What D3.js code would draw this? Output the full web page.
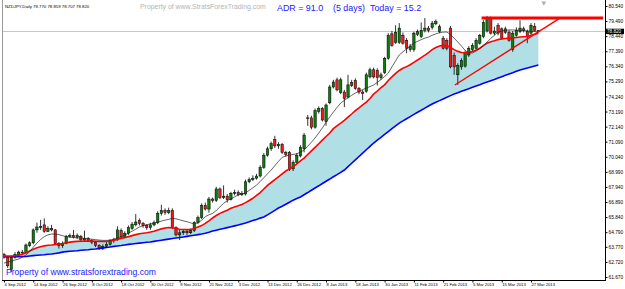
<!DOCTYPE html>
<html>
<head>
<meta charset="utf-8">
<script src="https://cdn.jsdelivr.net/npm/d3@7"></script>
<style>
body { margin: 0; background: #fff; }
svg { display: block; }
text { font-family: "Liberation Sans", Arial, sans-serif; }
</style>
</head>
<body>
<div id="chart"></div>
<script>
// NZDJPY daily, 4 Sep 2012 - 29 Mar 2013 (one entry per bar)
const opens = [
63.25,63.05,62.20,63.05,63.20,63.40,63.35,63.85,64.05,64.95,
65.10,65.30,64.85,65.05,64.95,64.00,63.85,64.00,64.50,64.55,
64.45,64.50,64.25,64.35,64.20,64.10,63.85,63.70,63.80,63.95,
64.20,64.25,64.90,64.45,64.70,65.05,65.30,65.60,65.40,65.25,
65.10,65.30,65.45,66.10,66.30,66.15,66.30,65.10,64.60,64.75,
64.85,64.75,64.90,65.45,65.80,66.65,66.40,67.10,67.00,67.80,
67.20,67.30,67.05,67.50,67.55,67.40,67.45,68.30,68.45,68.55,
68.70,69.30,70.15,70.60,71.25,70.80,70.90,70.35,70.35,69.20,
69.65,70.10,70.60,72.70,72.75,72.10,73.20,73.40,72.50,73.80,
74.90,75.40,74.50,74.55,74.20,75.00,75.35,74.80,74.55,74.60,
75.60,76.10,76.05,75.55,75.90,76.90,78.60,78.00,78.00,78.50,
78.15,77.50,77.50,78.55,78.40,78.85,79.00,79.05,79.30,78.75,
78.30,78.15,79.00,77.10,75.75,76.30,76.35,77.13,77.50,77.60,
77.95,78.40,78.80,79.70,78.65,79.20,78.95,78.70,78.70,77.50,
78.50,78.75,78.95,78.75,78.65,79.10,78.77];
const highs = [
63.35,63.10,63.15,63.40,63.50,63.55,64.00,64.15,65.05,65.45,
65.65,65.75,65.20,65.30,65.00,64.10,64.15,64.60,64.70,64.95,
64.70,64.60,64.90,64.45,64.30,64.20,63.95,63.95,64.10,64.30,
64.40,65.20,65.05,64.85,65.25,65.50,66.05,65.75,65.50,65.35,
65.45,65.60,66.25,66.70,66.45,66.50,66.45,65.20,64.95,65.00,
65.00,65.05,65.55,65.95,66.80,66.85,67.25,67.20,67.95,67.90,
68.05,67.45,67.60,67.75,67.70,67.65,68.45,68.60,68.75,68.85,
69.45,70.30,70.75,71.10,71.50,71.05,71.00,70.45,70.45,69.80,
70.30,70.85,71.70,72.95,72.90,73.40,73.55,73.50,73.75,75.05,
75.40,75.55,75.55,74.70,75.75,75.40,75.50,74.90,74.70,75.90,
76.25,76.25,76.20,75.90,77.00,78.65,78.80,79.20,79.35,78.70,
78.30,77.90,78.75,78.90,79.40,79.70,79.15,79.50,79.60,79.25,
78.45,78.30,79.15,77.30,76.55,76.90,77.45,77.75,77.95,78.30,
78.60,79.55,79.85,79.80,79.10,79.35,79.05,79.10,78.85,78.80,
79.05,79.55,79.10,78.90,79.35,79.35,78.859];
const lows = [
62.95,62.30,62.00,62.95,63.10,63.20,63.30,63.75,63.95,64.75,
64.95,64.75,64.80,64.85,63.90,63.65,63.70,63.95,64.40,64.35,
64.30,64.10,64.15,64.10,63.95,63.75,63.55,63.55,63.75,63.85,
64.05,64.20,64.35,64.35,64.60,64.95,65.20,65.25,65.10,64.95,
64.95,65.20,65.35,65.95,66.00,66.05,65.00,64.50,64.25,64.60,
64.60,64.65,64.80,65.35,65.70,66.30,66.15,66.85,66.90,67.10,
67.10,66.85,67.00,67.35,67.30,67.30,67.35,68.20,68.35,68.45,
68.60,69.20,70.05,70.45,70.65,70.60,70.25,70.05,69.05,69.05,
69.55,70.00,70.35,72.20,71.95,72.00,73.05,72.50,72.20,73.70,
74.80,74.60,74.40,73.50,74.10,74.90,74.70,74.40,74.00,74.50,
75.50,75.50,75.00,75.40,75.80,76.80,77.70,77.90,77.90,77.85,
77.25,77.35,77.35,78.45,78.30,78.70,78.70,78.90,79.20,78.65,
77.50,77.45,76.20,75.75,75.05,76.10,76.25,77.00,77.35,77.50,
77.85,78.30,78.70,78.55,78.50,78.50,78.20,78.60,78.05,77.35,
78.40,78.65,78.70,77.95,78.55,78.75,78.707];
const closes = [
63.05,62.45,63.05,63.25,63.40,63.35,63.90,64.05,64.95,65.15,
65.20,64.85,65.05,64.95,64.00,63.85,64.00,64.50,64.55,64.45,
64.55,64.25,64.35,64.20,64.10,63.85,63.70,63.80,63.95,64.20,
64.25,64.95,64.45,64.70,65.10,65.35,65.50,65.40,65.25,65.10,
65.30,65.45,66.10,66.30,66.15,66.30,65.10,64.60,64.75,64.85,
64.75,64.90,65.45,65.80,66.65,66.40,67.10,67.00,67.80,67.20,
67.30,67.05,67.50,67.55,67.40,67.50,68.30,68.45,68.55,68.70,
69.30,70.15,70.60,70.95,70.80,70.90,70.35,70.20,69.15,69.65,
70.15,70.70,71.55,72.75,72.10,73.25,73.40,72.60,73.65,74.90,
75.25,74.70,75.40,74.10,75.05,75.20,74.80,74.55,74.45,75.75,
76.10,75.60,75.55,75.75,76.90,78.50,77.80,78.70,79.00,77.95,
77.60,77.75,78.65,78.75,78.85,79.00,78.85,79.35,79.45,79.10,
77.60,77.60,76.30,76.30,76.40,76.75,77.30,77.60,77.80,78.15,
78.50,79.40,79.70,78.65,78.80,78.65,78.30,78.95,78.15,78.65,
78.85,79.00,78.85,78.40,79.20,78.85,78.82];

// moving averages (thin black, red, blue)
const maFast = [
62.64,62.71,62.78,62.85,62.92,63.05,63.20,63.43,63.75,64.03,
64.28,64.48,64.60,64.66,64.66,64.62,64.55,64.48,64.45,64.42,
64.40,64.38,64.36,64.33,64.30,64.27,64.24,64.22,64.22,64.24,
64.30,64.38,64.48,64.59,64.72,64.86,65.00,65.15,65.24,65.31,
65.37,65.41,65.48,65.56,65.63,65.68,65.76,65.72,65.65,65.58,
65.52,65.44,65.36,65.45,65.62,65.87,66.00,66.10,66.30,66.55,
66.80,66.98,67.12,67.25,67.38,67.45,67.52,67.70,67.88,68.07,
68.32,68.58,68.85,69.12,69.42,69.72,70.00,70.10,70.16,70.20,
70.25,70.37,70.51,70.78,71.05,71.35,71.70,72.05,72.45,72.81,
73.15,73.48,73.78,73.98,74.15,74.32,74.48,74.60,74.72,74.82,
74.93,75.04,75.22,75.42,75.63,75.87,76.30,76.72,77.13,77.35,
77.55,77.75,77.96,78.08,78.20,78.30,78.38,78.50,78.60,78.68,
78.72,78.73,78.55,78.30,78.03,77.75,77.45,77.27,77.27,77.40,
77.58,77.80,78.03,78.28,78.50,78.73,78.80,78.85,78.87,78.87,
78.86,78.85,78.83,78.80,78.78,78.76,78.73];
const maMid = [
63.13,63.13,63.13,63.15,63.18,63.25,63.35,63.48,63.60,63.70,
63.78,63.84,63.88,63.90,63.93,63.95,64.00,64.06,64.10,64.13,
64.15,64.16,64.17,64.18,64.17,64.16,64.15,64.14,64.15,64.18,
64.22,64.30,64.36,64.42,64.48,64.55,64.62,64.68,64.72,64.75,
64.80,64.86,64.94,65.02,65.08,65.12,65.10,65.05,65.00,64.98,
64.97,64.98,65.05,65.15,65.25,65.40,65.58,65.78,65.95,66.10,
66.22,66.32,66.45,66.55,66.63,66.72,66.85,67.00,67.15,67.35,
67.55,67.80,68.05,68.25,68.45,68.65,68.85,69.05,69.20,69.35,
69.55,69.75,69.95,70.20,70.45,70.70,70.95,71.20,71.45,71.70,
72.00,72.20,72.38,72.58,72.80,73.02,73.25,73.45,73.65,73.85,
74.10,74.40,74.62,74.85,75.05,75.35,75.60,75.85,76.05,76.20,
76.32,76.45,76.62,76.78,76.95,77.12,77.30,77.50,77.65,77.75,
77.80,77.78,77.65,77.50,77.38,77.30,77.28,77.30,77.38,77.48,
77.60,77.78,77.95,78.05,78.12,78.20,78.25,78.28,78.30,78.32,
78.35,78.38,78.40,78.42,78.50,78.58,78.65];
const maSlow = [
63.08,63.08,63.08,63.08,63.08,63.09,63.10,63.13,63.16,63.18,
63.20,63.22,63.25,63.27,63.31,63.35,63.40,63.44,63.46,63.48,
63.50,63.53,63.55,63.57,63.60,63.62,63.65,63.68,63.72,63.76,
63.80,63.83,63.86,63.90,63.94,63.97,64.00,64.03,64.06,64.09,
64.11,64.15,64.19,64.23,64.27,64.31,64.35,64.39,64.42,64.46,
64.50,64.54,64.58,64.62,64.66,64.72,64.79,64.87,64.93,64.99,
65.05,65.11,65.17,65.23,65.29,65.36,65.43,65.51,65.60,65.68,
65.77,65.85,66.00,66.15,66.31,66.47,66.60,66.74,66.88,67.02,
67.13,67.24,67.40,67.55,67.71,67.87,68.02,68.18,68.34,68.49,
68.65,68.80,68.96,69.12,69.35,69.59,69.82,70.06,70.30,70.53,
70.77,71.00,71.20,71.40,71.60,71.80,72.00,72.20,72.39,72.54,
72.69,72.84,72.99,73.14,73.28,73.43,73.58,73.72,73.84,73.95,
74.07,74.18,74.30,74.41,74.50,74.60,74.69,74.78,74.88,74.97,
75.06,75.16,75.25,75.34,75.43,75.53,75.62,75.71,75.80,75.89,
75.99,76.08,76.15,76.22,76.29,76.36,76.43];

// hand drawn lines: [bar, price]
const trendLine = [[123.2, 75.04], [151.9, 79.70]];
const resistLine = [[130.5, 79.70], [163.7, 79.70]];

const dateLabels = ["4 Sep 2012","14 Sep 2012","26 Sep 2012","8 Oct 2012","18 Oct 2012",
  "30 Oct 2012","9 Nov 2012","21 Nov 2012","3 Dec 2012","13 Dec 2012","26 Dec 2012",
  "8 Jan 2013","18 Jan 2013","30 Jan 2013","11 Feb 2013","21 Feb 2013","5 Mar 2013",
  "15 Mar 2013","27 Mar 2013"];
const dateTicks = d3.range(0, 145, 8);
const priceTicks = [80.54,79.49,78.44,77.39,76.34,75.29,74.24,73.19,72.14,71.09,
  70.04,68.99,67.94,66.89,65.84,64.79,63.77,62.72,61.67];

const W = 625, H = 289;
const plot = {left: 2, right: 605, top: 2, bottom: 280};

const x = d3.scaleLinear().domain([0, 144]).range([4, 531]);
const y = d3.scaleLinear().domain([61.67, 80.54]).range([277, 6]);
const fmt = d3.format(".3f");

const svg = d3.select("#chart").append("svg")
  .attr("width", W).attr("height", H);

svg.append("defs").append("clipPath").attr("id", "clip")
  .append("rect")
  .attr("x", plot.left).attr("y", plot.top)
  .attr("width", plot.right - plot.left).attr("height", plot.bottom - plot.top);

const g = svg.append("g").attr("clip-path", "url(#clip)");

// band between red and blue averages
g.append("path")
  .datum(maMid)
  .attr("fill", "#b0e0e6")
  .attr("d", d3.area()
    .x((d, i) => x(i))
    .y0((d, i) => y(maSlow[i]))
    .y1(d => y(d)));

// last price line
const n = closes.length - 1;
const last = closes[n];
const lastY = Math.round(y(last)) + 0.5;
g.append("line")
  .attr("x1", plot.left).attr("x2", plot.right)
  .attr("y1", lastY).attr("y2", lastY)
  .attr("stroke", "#c8c8c8").attr("stroke-width", 1);

// candles
const bars = opens.map((o, i) => ({i: i, o: o, h: highs[i], l: lows[i], c: closes[i]}));
const bw = 2.4;

g.append("g").selectAll("line")
  .data(bars)
  .join("line")
  .attr("x1", d => x(d.i)).attr("x2", d => x(d.i))
  .attr("y1", d => y(d.h)).attr("y2", d => y(d.l))
  .attr("stroke", "#000").attr("stroke-width", 0.8);

g.append("g").selectAll("rect")
  .data(bars)
  .join("rect")
  .attr("x", d => x(d.i) - bw / 2)
  .attr("width", bw)
  .attr("y", d => y(Math.max(d.o, d.c)))
  .attr("height", d => Math.max(0.8, Math.abs(y(d.o) - y(d.c))))
  .attr("fill", d => d.c >= d.o ? "#0a7d0a" : "#ee1c1c")
  .attr("stroke", "#000").attr("stroke-width", 0.5);

// averages
const maLine = d3.line().x((d, i) => x(i)).y(d => y(d));
g.append("path").datum(maSlow).attr("fill", "none")
  .attr("stroke", "#0000ff").attr("stroke-width", 1.6).attr("d", maLine);
g.append("path").datum(maMid).attr("fill", "none")
  .attr("stroke", "#ff0000").attr("stroke-width", 1.6).attr("d", maLine);
g.append("path").datum(maFast).attr("fill", "none")
  .attr("stroke", "#222").attr("stroke-width", 0.7).attr("d", maLine);

// trend lines
const segLine = d3.line().x(d => x(d[0])).y(d => y(d[1]));
g.append("path").datum(trendLine).attr("fill", "none")
  .attr("stroke", "#ff0000").attr("stroke-width", 1.4).attr("d", segLine);
g.append("path").datum(resistLine).attr("fill", "none")
  .attr("stroke", "#ff0000").attr("stroke-width", 3).attr("d", segLine);

// frame
svg.append("line").attr("x1", plot.left + 0.5).attr("x2", plot.left + 0.5)
  .attr("y1", 0).attr("y2", plot.bottom).attr("stroke", "#9a9a9a");
svg.append("line").attr("x1", plot.right + 0.5).attr("x2", plot.right + 0.5)
  .attr("y1", 0).attr("y2", plot.bottom + 0.5).attr("stroke", "#000");
svg.append("line").attr("x1", plot.left).attr("x2", plot.right + 1)
  .attr("y1", plot.bottom + 0.5).attr("y2", plot.bottom + 0.5).attr("stroke", "#000");

// price axis
const yAxis = svg.append("g")
  .attr("transform", `translate(${plot.right + 0.5},0)`)
  .call(d3.axisRight(y).tickValues(priceTicks).tickSize(2).tickPadding(1)
    .tickFormat(fmt));
yAxis.select(".domain").remove();
yAxis.selectAll("text").attr("font-size", 4.8).attr("font-family", "Liberation Sans, Arial, sans-serif");

// date axis
const xAxis = svg.append("g")
  .attr("transform", `translate(0,${plot.bottom + 0.5})`)
  .call(d3.axisBottom(x).tickValues(dateTicks).tickSize(2).tickPadding(1)
    .tickFormat((d, k) => dateLabels[k]));
xAxis.select(".domain").remove();
xAxis.selectAll("text").attr("font-size", 4.2).attr("text-anchor", "start")
  .attr("font-family", "Liberation Sans, Arial, sans-serif");

// current price tag
svg.append("rect")
  .attr("x", plot.right + 1).attr("y", lastY - 2.8)
  .attr("width", 18).attr("height", 5.4).attr("fill", "#000");
svg.append("text")
  .attr("x", plot.right + 2).attr("y", lastY + 1.6)
  .attr("font-size", 4.6).attr("fill", "#fff")
  .text(fmt(last));

// chart shift marker
svg.append("path")
  .attr("d", d3.symbol(d3.symbolTriangle, 10)())
  .attr("transform", `translate(${x(147.5)},3) rotate(180)`)
  .attr("fill", "#b0b0b0");

// header texts
svg.append("text").attr("x", 5).attr("y", 7.5).attr("font-size", 4.3).attr("fill", "#000")
  .text("NZDJPY,Daily  " + [opens[n], highs[n], lows[n], closes[n]].map(fmt).join(" "));
svg.append("text").attr("x", 140).attr("y", 9).attr("font-size", 6.9).attr("fill", "#b4b4b4")
  .text("Property of www.StratsForexTrading.com");
svg.append("text").attr("x", 277).attr("y", 10.5).attr("font-size", 8.9).attr("fill", "#2020ff")
  .text("ADR = 91.0");
svg.append("text").attr("x", 333).attr("y", 10.5).attr("font-size", 8.9).attr("fill", "#2020ff")
  .text("(5 days)");
svg.append("text").attr("x", 370).attr("y", 10.5).attr("font-size", 8.9).attr("fill", "#2020ff")
  .text("Today = 15.2");
svg.append("text").attr("x", 6).attr("y", 274.5).attr("font-size", 8.6).attr("fill", "#1a1aff")
  .text("Property of www.stratsforextrading.com");
</script>
</body>
</html>
